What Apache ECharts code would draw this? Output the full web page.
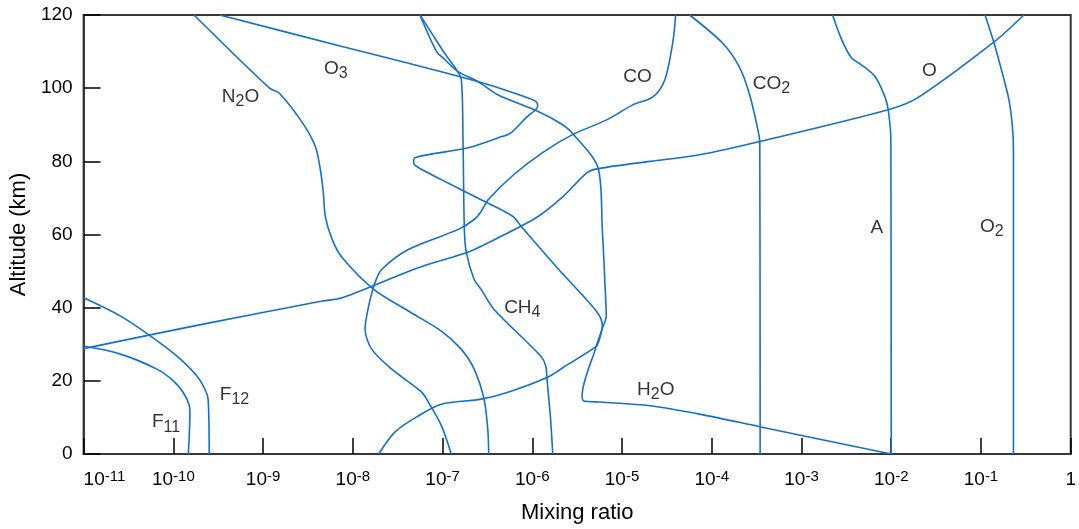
<!DOCTYPE html>
<html>
<head>
<meta charset="utf-8">
<script src="https://cdn.jsdelivr.net/npm/echarts@6/dist/echarts.min.js"></script>
<style>
  html, body { margin: 0; padding: 0; background: #ffffff; }
  #chart { width: 1079px; height: 529px; }
</style>
</head>
<body>
<div id="chart"></div>
<script>
// Vertical profiles of atmospheric trace constituents: mixing ratio vs altitude (km).
const N2O_ratio = [1.7e-10, 1.18e-9, 1.52e-9, 2.75e-9, 3.83e-9, 4.35e-9, 4.69e-9, 4.94e-9, 5.9e-9, 7.6e-9, 1.71e-8, 4.16e-8, 9.7e-8, 1.62e-7, 2.25e-7, 2.9e-7, 3.19e-7, 3.27e-7];
const N2O_alt   = [120, 100, 98.6, 90.5, 84.0, 77.7, 71.5, 64.9, 58.6, 53.7, 45.0, 39.1, 33.6, 28.6, 23.2, 15.0, 6.8, 0];

const O3_ratio = [3.3e-10, 7.6e-9, 3.5e-8, 2.48e-7, 8.1e-7, 1.09e-6, 1.15e-6, 1.09e-6, 8.85e-7, 5.78e-7, 4.25e-7, 1.92e-7, 4.92e-8, 4.76e-8, 5.37e-8, 9.7e-8, 2.69e-7, 6.04e-7, 7.47e-7, 1.96e-6, 5.31e-6, 6.03e-6, 5.45e-6, 5.03e-6, 2.23e-6, 1.48e-6, 5.36e-7, 2.69e-7, 9.7e-8, 5.37e-8, 2.94e-8, 1.94e-8];
const O3_alt   = [120, 111.4, 107.3, 101.8, 97.7, 96.4, 95.2, 94.1, 92.3, 87.8, 86.5, 83.7, 81.0, 79.6, 78.3, 75.0, 69.5, 65.0, 62.3, 50.5, 38.7, 34.9, 30.5, 29.2, 23.7, 21.0, 16.9, 15.0, 13.6, 10.4, 6.0, 0];

const CO_ratio = [3.96e-5, 3.67e-5, 3.0e-5, 2.21e-5, 1.33e-5, 6.84e-6, 2.81e-6, 1.34e-6, 6.24e-7, 3.22e-7, 2.69e-7, 2.25e-7, 1.5e-7, 4.16e-8, 2.11e-8, 1.77e-8, 1.5e-8, 1.37e-8, 1.63e-8, 2.72e-8, 5.85e-8, 6.94e-8, 9.73e-8, 1.25e-7];
const CO_alt   = [120, 112.4, 102.3, 97.6, 95.5, 91.4, 87.3, 82.6, 76.4, 69.5, 66.3, 64.1, 61.4, 55.9, 50.5, 46.9, 40.4, 34.1, 28.6, 23.2, 16.9, 14.2, 7.7, 0];

const CH4_ratio = [5.6e-8, 7.53e-8, 1.05e-7, 1.43e-7, 1.62e-7, 1.69e-7, 1.75e-7, 1.84e-7, 2.25e-7, 2.69e-7, 3.75e-7, 1.24e-6, 1.41e-6, 1.47e-6, 1.6e-6, 1.69e-6];
const CH4_alt   = [120, 115.1, 109.6, 105.0, 102.3, 85.9, 61.4, 55.1, 47.7, 45.0, 39.5, 26.8, 24.1, 19.6, 9.5, 0];

const H2O_ratio = [5.6e-8, 8.57e-8, 1.02e-7, 1.49e-7, 2.48e-7, 4.12e-7, 1.05e-6, 1.9e-6, 2.67e-6, 5.48e-6, 6.03e-6, 6.5e-6, 6.67e-6, 5.98e-6, 5.03e-6, 3.59e-6, 3.74e-6, 5.73e-6, 2.05e-5, 7.31e-5, 3.52e-4, 1.0e-2];
const H2O_alt   = [120, 110.0, 108.2, 104.5, 101.8, 98.2, 94.1, 90.9, 88.2, 77.7, 61.4, 45.0, 37.7, 34.1, 28.6, 15.9, 14.5, 14.2, 13.2, 10.9, 7.4, 0];

const O_ratio = [1.0e-11, 2.15e-10, 4.57e-9, 7.62e-9, 5.37e-8, 1.84e-7, 2.69e-7, 1.09e-6, 2.23e-6, 4.08e-6, 5.45e-6, 2.05e-5, 7.31e-5, 3.52e-4, 9.25e-3, 1.98e-2, 0.141, 0.301];
const O_alt   = [28.8, 35.5, 41.8, 42.7, 50.9, 55.0, 56.8, 64.5, 70.5, 76.9, 78.0, 80.0, 81.8, 85.5, 94.1, 97.4, 112.7, 120];

const CO2_ratio = [5.66e-5, 1.31e-4, 2.02e-4, 2.61e-4, 3.21e-4, 3.43e-4, 3.46e-4];
const CO2_alt   = [120, 112.4, 105.9, 98.7, 89.5, 85.1, 0];

const A_ratio = [2.22e-3, 2.81e-3, 3.6e-3, 4.65e-3, 6.59e-3, 8.49e-3, 9.25e-3, 9.9e-3, 1.0e-2];
const A_alt   = [120, 113.2, 108.3, 106.4, 103.2, 97.7, 94.1, 85.9, 0];

const O2_ratio = [0.111, 0.140, 0.173, 0.205, 0.224, 0.230, 0.230];
const O2_alt   = [120, 112.3, 104.1, 96.8, 89.5, 83.2, 0];

const F12_ratio = [1.0e-11, 2.58e-11, 5.53e-11, 1.09e-10, 1.82e-10, 2.25e-10, 2.44e-10, 2.51e-10];
const F12_alt   = [42.7, 37.7, 32.3, 26.8, 21.4, 17.7, 15.0, 0];

const F11_ratio = [1.0e-11, 2.58e-11, 6.55e-11, 1.0e-10, 1.29e-10, 1.51e-10, 1.53e-10, 1.47e-10];
const F11_alt   = [29.5, 27.3, 23.2, 20.0, 16.8, 13.2, 11.4, 0];

// Species names and where each name sits (mixing ratio, altitude)
const labelNames = ['N2O', 'O3', 'CO', 'CO2', 'O', 'A', 'O2', 'CH4', 'H2O', 'F12', 'F11'];
const labelRatio = [5.6e-10, 6.46e-9, 1.49e-5, 4.63e-4, 2.66e-2, 6.9e-3, 0.132, 7.74e-7, 2.38e-5, 4.8e-10, 8.28e-11];
const labelAlt   = [97.6, 105.3, 103.0, 101.2, 104.7, 61.9, 62.1, 40.0, 17.6, 16.2, 8.7];

// x axis runs over decades: 10^-11 ... 1
const decadeMin = -11;
const decadeMax = 0;

const profiles = [
  ['N2O', N2O_ratio, N2O_alt],
  ['O3', O3_ratio, O3_alt],
  ['CO', CO_ratio, CO_alt],
  ['CH4', CH4_ratio, CH4_alt],
  ['H2O', H2O_ratio, H2O_alt],
  ['O', O_ratio, O_alt],
  ['CO2', CO2_ratio, CO2_alt],
  ['A', A_ratio, A_alt],
  ['O2', O2_ratio, O2_alt],
  ['F12', F12_ratio, F12_alt],
  ['F11', F11_ratio, F11_alt]
];

const FONT = 'Liberation Sans, Arial, Helvetica, sans-serif';
const TEXT = '#000000';
const AXIS = '#383838';
const LINE = '#1470d0';

// Chemical formula -> rich text with subscripted digits
function chem(name) {
  return name.replace(/([A-Za-z]+)|(\d+)/g, (m, a, d) => a ? '{m|' + a + '}' : '{s|' + d + '}');
}

const lineSeries = profiles.map(([name, ratio, alt]) => ({
  name: name,
  type: 'line',
  data: ratio.map((r, i) => [Math.log10(r), alt[i]]),
  symbol: 'none',
  showSymbol: false,
  smooth: 0.3,
  clip: true,
  silent: true,
  lineStyle: { color: LINE, width: 1.6 }
}));

const labelSeries = {
  type: 'scatter',
  silent: true,
  symbolSize: 1,
  itemStyle: { color: 'rgba(0,0,0,0)' },
  data: labelNames.map((n, i) => ({ name: n, value: [Math.log10(labelRatio[i]), labelAlt[i]] })),
  label: {
    show: true,
    position: 'inside',
    align: 'center',
    verticalAlign: 'middle',
    formatter: p => chem(p.name),
    rich: {
      m: { fontSize: 19, lineHeight: 26, verticalAlign: 'middle', color: TEXT, fontFamily: FONT },
      s: { fontSize: 16, lineHeight: 16, verticalAlign: 'bottom', color: TEXT, fontFamily: FONT }
    }
  }
};

const chart = echarts.init(document.getElementById('chart'), null, { renderer: 'canvas' });
chart.setOption({
  animation: false,
  backgroundColor: '#ffffff',
  grid: {
    left: 81, right: 5, top: 15, bottom: 74,
    show: true, borderColor: AXIS, borderWidth: 2, backgroundColor: 'transparent'
  },
  xAxis: {
    type: 'value',
    min: decadeMin,
    max: decadeMax,
    interval: 1,
    name: 'Mixing ratio',
    nameLocation: 'middle',
    nameGap: 48,
    nameTextStyle: { fontSize: 22, color: TEXT, fontFamily: FONT },
    axisLine: { show: true, onZero: false, lineStyle: { color: AXIS, width: 2 } },
    axisTick: { show: true, inside: true, length: 16, lineStyle: { color: TEXT, width: 1.5 } },
    splitLine: { show: false },
    axisLabel: {
      margin: 15,
      alignMinLabel: 'left',
      formatter: v => v === 0 ? '{b|1}' : '{b|10}{s|' + v + '}',
      rich: {
        b: { fontSize: 19, lineHeight: 22, verticalAlign: 'middle', color: TEXT, fontFamily: FONT },
        s: { fontSize: 15, lineHeight: 14, verticalAlign: 'top', color: TEXT, fontFamily: FONT }
      }
    }
  },
  yAxis: {
    type: 'value',
    min: 0,
    max: 120,
    interval: 20,
    name: 'Altitude (km)',
    nameLocation: 'middle',
    nameGap: 44,
    nameRotate: 90,
    nameTextStyle: { fontSize: 22, color: TEXT, fontFamily: FONT },
    axisLine: { show: true, onZero: false, lineStyle: { color: AXIS, width: 2 } },
    axisTick: { show: true, inside: true, length: 17, lineStyle: { color: TEXT, width: 1.5 } },
    splitLine: { show: false },
    axisLabel: { margin: 11, fontSize: 19, color: TEXT, fontFamily: FONT }
  },
  series: lineSeries.concat([labelSeries])
});
</script>
</body>
</html>
